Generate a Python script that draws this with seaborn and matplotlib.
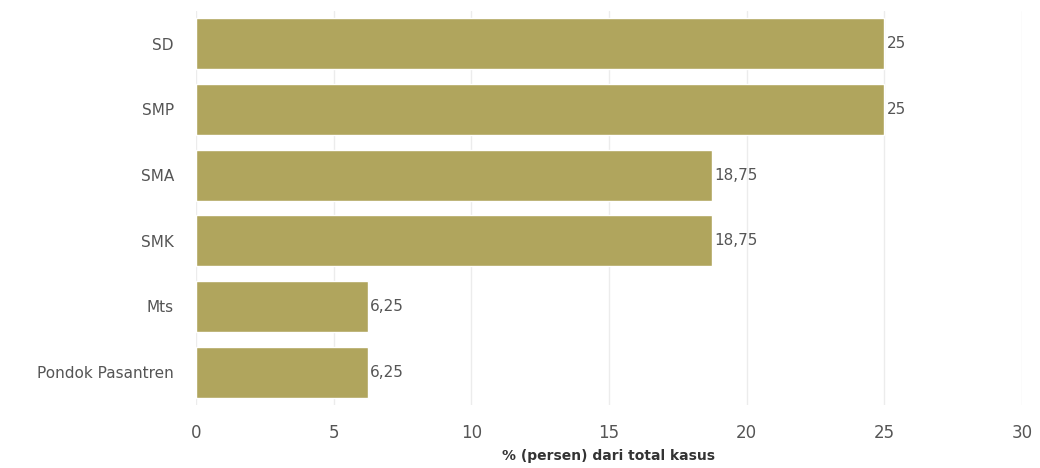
import matplotlib
matplotlib.use("Agg")
import matplotlib.pyplot as plt
import seaborn as sns
import pandas as pd

categories = ["SD", "SMP", "SMA", "SMK", "Mts", "Pondok Pasantren"]
values = [25, 25, 18.75, 18.75, 6.25, 6.25]
value_labels = ["25", "25", "18,75", "18,75", "6,25", "6,25"]
x_ticks = [0, 5, 10, 15, 20, 25, 30]

df = pd.DataFrame({"kategori": categories, "persen": values})

sns.set_theme(style="white")
plt.rcParams["font.family"] = ["DejaVu Sans"]

fig = plt.figure(figsize=(10.4, 4.68), dpi=100)
ax = fig.add_axes([0.1885, 0.1346, 0.794, 0.842])

sns.barplot(data=df, x="persen", y="kategori", color="#b0a55d", saturation=1,
            width=0.78, ax=ax, zorder=2)

for p, lab in zip(ax.patches, value_labels):
    ax.text(p.get_width() + 0.08, p.get_y() + p.get_height() / 2, lab,
            va="center", ha="left", fontsize=11, color="#555555")

ax.set_xlim(0, 30)
ax.set_xticks(x_ticks)
ax.set_xticklabels([str(t) for t in x_ticks])
ax.xaxis.grid(True, color="#ececec", linewidth=1, zorder=0)
ax.yaxis.grid(False)
for s in ax.spines.values():
    s.set_visible(False)
ax.tick_params(axis="x", length=0, pad=14, labelsize=12, labelcolor="#555555")
ax.tick_params(axis="y", length=0, pad=16, labelsize=11, labelcolor="#555555")
ax.set_ylabel("")
ax.set_xlabel("% (persen) dari total kasus", fontsize=10, fontweight="bold",
              color="#333333", labelpad=5)

fig.savefig("out.png", dpi=100)
